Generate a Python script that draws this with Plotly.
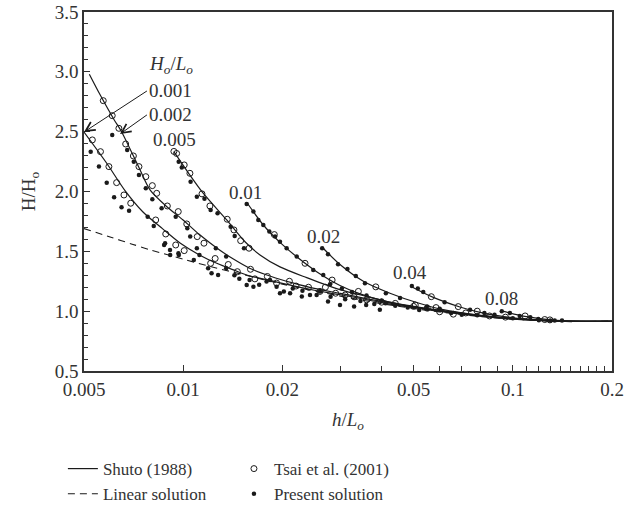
import numpy as np
import plotly.graph_objects as go

# ---------------- data ----------------
# Shuto (1988) curves, one per deep-water steepness Ho/Lo
shuto_0001_x = [0.005, 0.00586, 0.00665, 0.00755, 0.00865, 0.00978, 0.0112, 0.01264, 0.0142, 0.0159,
                0.018, 0.02, 0.025, 0.03, 0.04, 0.05, 0.06, 0.08, 0.1, 0.12, 0.15, 0.2]
shuto_0001_y = [2.497, 2.236, 2.01, 1.829, 1.69, 1.57, 1.47, 1.40, 1.345, 1.295,
                1.262, 1.232, 1.175, 1.137, 1.072, 1.029, 0.998, 0.958, 0.935, 0.923, 0.914, 0.915]

shuto_0002_x = [0.00519, 0.00559, 0.00617, 0.0065, 0.00734, 0.00793, 0.0089, 0.00999, 0.0112, 0.01264,
                0.0142, 0.0159, 0.0185, 0.0215, 0.025, 0.03, 0.04, 0.05, 0.06, 0.08, 0.1, 0.12, 0.15, 0.2]
shuto_0002_y = [2.98, 2.81, 2.60, 2.50, 2.20, 2.013, 1.875, 1.762, 1.64, 1.528,
                1.435, 1.359, 1.29, 1.236, 1.19, 1.148, 1.08, 1.035, 1.002, 0.96, 0.936, 0.924, 0.915, 0.915]

shuto_0005_x = [0.00937, 0.0104, 0.01148, 0.01355, 0.0154, 0.0171, 0.01966, 0.0237, 0.0299, 0.0367,
                0.045, 0.055, 0.065, 0.08, 0.1, 0.12, 0.15, 0.2]
shuto_0005_y = [2.333, 2.15, 1.988, 1.762, 1.58, 1.47, 1.37, 1.28, 1.18, 1.118,
                1.06, 1.02, 0.99, 0.962, 0.937, 0.924, 0.915, 0.915]

shuto_001_x = [0.01558, 0.0175, 0.01966, 0.0222, 0.0254, 0.0299, 0.0344, 0.0415, 0.05, 0.06,
               0.08, 0.1, 0.12, 0.15, 0.2]
shuto_001_y = [1.91, 1.72, 1.575, 1.45, 1.33, 1.215, 1.145, 1.08, 1.04, 1.008,
               0.963, 0.938, 0.924, 0.915, 0.915]

shuto_002_x = [0.0265, 0.0299, 0.0352, 0.0424, 0.0514, 0.061, 0.08, 0.1, 0.12, 0.15, 0.2]
shuto_002_y = [1.53, 1.39, 1.25, 1.15, 1.07, 1.015, 0.965, 0.94, 0.925, 0.915, 0.915]

shuto_004_x = [0.0488, 0.0574, 0.0691, 0.0795, 0.09, 0.1, 0.12, 0.15, 0.2]
shuto_004_y = [1.211, 1.115, 1.035, 0.99, 0.962, 0.945, 0.927, 0.916, 0.915]

shuto_008_x = [0.0923, 0.11, 0.13, 0.16, 0.2]
shuto_008_y = [1.002, 0.954, 0.927, 0.915, 0.915]

# Linear solution
linear_x = [0.005, 0.006, 0.007, 0.008, 0.01, 0.012, 0.015, 0.02, 0.03, 0.04, 0.05, 0.06,
            0.08, 0.1, 0.12, 0.15, 0.2]
linear_y = [1.69, 1.62, 1.56, 1.51, 1.435, 1.375, 1.31, 1.226, 1.126, 1.063, 1.022, 0.993,
            0.955, 0.933, 0.921, 0.913, 0.918]

# Tsai et al. (2001) – open circles
tsai_x = [0.0053, 0.00561, 0.00595, 0.00628, 0.00661, 0.00693, 0.00825, 0.00885, 0.00949, 0.01007, 0.01211,
          0.00572, 0.00609, 0.00638, 0.00669, 0.00706, 0.00734, 0.0077, 0.00806, 0.00831, 0.00895, 0.00966,
          0.01025, 0.01103, 0.01156,
          0.00937, 0.00955, 0.01007, 0.01048, 0.0114, 0.01205, 0.0136, 0.01425, 0.01494, 0.01584,
          0.0189, 0.02342, 0.0283, 0.034,
          0.0384, 0.0506, 0.0585,
          0.0566, 0.0683, 0.078,
          0.109, 0.1296, 0.125,
          0.0125, 0.0137, 0.0146, 0.016, 0.0165, 0.018, 0.0192, 0.021, 0.022, 0.024, 0.026, 0.027,
          0.029, 0.031, 0.033, 0.036, 0.04, 0.044, 0.05, 0.055, 0.066, 0.072, 0.085, 0.095, 0.06]
tsai_y = [2.431, 2.333, 2.208, 2.074, 1.971, 1.902, 1.762, 1.645, 1.553, 1.506, 1.40,
          2.759, 2.634, 2.528, 2.397, 2.297, 2.208, 2.124, 2.049, 1.985, 1.879, 1.832,
          1.729, 1.623, 1.568,
          2.335, 2.318, 2.222, 2.152, 1.98, 1.879, 1.768, 1.679, 1.589, 1.526,
          1.64, 1.40, 1.26, 1.165,
          1.203, 1.052, 1.03,
          1.121, 1.038, 1.0,
          0.96, 0.927, 0.93,
          1.44, 1.39, 1.33, 1.35, 1.27, 1.29, 1.235, 1.25, 1.21, 1.2, 1.165, 1.2,
          1.15, 1.135, 1.12, 1.095, 1.075, 1.065, 1.04, 1.025, 0.975, 0.985, 0.96, 0.95, 0.995]

# Present solution – filled dots
present_x = [0.00524, 0.00555, 0.00586, 0.00617, 0.0065, 0.00685, 0.0078, 0.00814, 0.00875, 0.00913, 0.0097, 0.01077,
             0.00609, 0.00676, 0.00708, 0.00734, 0.0077, 0.00806, 0.0086, 0.00949, 0.01029, 0.0105, 0.011, 0.0112,
             0.01256, 0.0135,
             0.00969, 0.01053, 0.011, 0.01211, 0.01271, 0.01393, 0.01433, 0.01529, 0.0099, 0.0116,
             0.01558, 0.01633, 0.0169, 0.0175, 0.01825, 0.019, 0.01966, 0.0206, 0.0221, 0.02481, 0.0266, 0.0279,
             0.0303, 0.0325, 0.036, 0.04,
             0.0264, 0.0275, 0.0295, 0.0315, 0.0334, 0.0356, 0.0412, 0.0455, 0.0549, 0.06,
             0.0494, 0.0515, 0.0535, 0.0621, 0.0742, 0.082, 0.088,
             0.0926, 0.098, 0.113, 0.1195, 0.134, 0.141, 0.105,
             0.00881, 0.00912, 0.00967, 0.0119, 0.01219, 0.01276, 0.0135, 0.0159, 0.01633, 0.01834, 0.0192,
             0.0202, 0.0211, 0.0229, 0.02425, 0.026, 0.01558, 0.0179, 0.01966, 0.0254, 0.0275, 0.0299, 0.033,
             0.0359, 0.0395, 0.0411, 0.0143, 0.0148, 0.017, 0.0215, 0.023, 0.028, 0.031, 0.0345, 0.038, 0.044,
             0.048, 0.052, 0.065, 0.07, 0.078, 0.1, 0.12, 0.13]
present_y = [2.333, 2.208, 2.074, 1.952, 1.868, 1.84, 1.79, 1.712, 1.553, 1.47, 1.47, 1.428,
             2.472, 2.347, 2.249, 2.138, 2.027, 1.935, 1.86, 1.79, 1.693, 1.623, 1.526, 1.47,
             1.526, 1.456,
             2.249, 2.082, 1.957, 1.846, 1.818, 1.706, 1.629, 1.526, 2.2, 1.94,
             1.896, 1.832, 1.762, 1.72, 1.665, 1.623, 1.581, 1.526, 1.456, 1.345, 1.303, 1.225,
             1.19, 1.16, 1.13, 1.09,
             1.526, 1.476, 1.392, 1.353, 1.294, 1.233, 1.15, 1.11, 1.04, 1.02,
             1.211, 1.19, 1.16, 1.075, 1.011, 0.985, 0.97,
             1.0, 0.985, 0.95, 0.935, 0.923, 0.921, 0.96,
             1.568, 1.512, 1.484, 1.359, 1.317, 1.303, 1.359, 1.261, 1.205, 1.261, 1.205,
             1.164, 1.15, 1.122, 1.136, 1.164, 1.219, 1.247, 1.15, 1.136, 1.08, 1.052, 1.038,
             1.052, 1.011, 1.066, 1.30, 1.27, 1.22, 1.19, 1.17, 1.12, 1.1, 1.085, 1.06, 1.045,
             1.03, 1.01, 0.985, 0.97, 0.965, 0.94, 0.925, 0.922]

# curve labels (0.001 and 0.002 carry arrows)
label_texts = ["0.005", "0.01", "0.02", "0.04", "0.08"]
label_x = [0.00944, 0.0155, 0.0267, 0.0488, 0.0927]
label_y = [2.431, 1.988, 1.62, 1.32, 1.102]

arrow_texts = ["0.001", "0.002"]
arrow_tail_x = [0.00776, 0.00776]
arrow_tail_y = [2.84, 2.64]
arrow_head_x = [0.005, 0.00643]
arrow_head_y = [2.497, 2.48]

x_tickvals = [0.005, 0.01, 0.02, 0.05, 0.1, 0.2]
x_ticktext = ["0.005", "0.01", "0.02", "0.05", "0.1", "0.2"]
x_minor = [0.03, 0.04, 0.06, 0.07, 0.08, 0.09, 0.11, 0.12, 0.13, 0.14, 0.15, 0.16, 0.17, 0.18, 0.19]

# ---------------- figure ----------------
FONT = "Liberation Serif"
TXT = "#333333"
LINE = "#1a1a1a"

fig = go.Figure()

curves = [(shuto_0001_x, shuto_0001_y), (shuto_0002_x, shuto_0002_y), (shuto_0005_x, shuto_0005_y),
          (shuto_001_x, shuto_001_y), (shuto_002_x, shuto_002_y), (shuto_004_x, shuto_004_y),
          (shuto_008_x, shuto_008_y)]
for i, (cx, cy) in enumerate(curves):
    fig.add_trace(go.Scatter(x=cx, y=cy, mode="lines", name="Shuto (1988)",
                             line=dict(color=LINE, width=1.2, shape="spline", smoothing=0.8),
                             legendgroup="shuto", showlegend=(i == 0), legend="legend"))

fig.add_trace(go.Scatter(x=linear_x, y=linear_y, mode="lines", name="Linear solution",
                         line=dict(color=LINE, width=1.1, dash="7px,5px", shape="spline", smoothing=0.8),
                         legend="legend"))

fig.add_trace(go.Scatter(x=tsai_x, y=tsai_y, mode="markers", name="Tsai et al. (2001)",
                         marker=dict(symbol="circle-open", size=6, color=LINE, line=dict(width=1, color=LINE)),
                         legend="legend2"))
fig.add_trace(go.Scatter(x=present_x, y=present_y, mode="markers", name="Present solution",
                         marker=dict(symbol="circle", size=4.5, color=LINE, line=dict(width=0)),
                         legend="legend2"))

annotations = []
for t, lx, ly in zip(label_texts, label_x, label_y):
    annotations.append(dict(x=np.log10(lx), y=ly, xref="x", yref="y", text=t, showarrow=False,
                            font=dict(family=FONT, size=19, color=TXT)))
annotations.append(dict(x=np.log10(0.00918), y=3.06, xref="x", yref="y",
                        text="<i>H<sub>o</sub></i>/<i>L<sub>o</sub></i>", showarrow=False,
                        font=dict(family=FONT, size=19, color=TXT)))
for t, tx, ty, hx, hy in zip(arrow_texts, arrow_tail_x, arrow_tail_y, arrow_head_x, arrow_head_y):
    annotations.append(dict(x=np.log10(hx), y=hy, xref="x", yref="y",
                            ax=np.log10(tx), ay=ty, axref="x", ayref="y", text=t,
                            xanchor="left", yanchor="middle",
                            font=dict(family=FONT, size=19, color=TXT),
                            showarrow=True, arrowhead=5, arrowsize=1.8, arrowwidth=1, arrowcolor=LINE))

fig.update_layout(
    width=643, height=511,
    margin=dict(l=84, r=31, t=12, b=140, autoexpand=False),
    paper_bgcolor="white", plot_bgcolor="white",
    font=dict(family=FONT, size=19, color=TXT),
    annotations=annotations,
    legend=dict(x=-0.04, y=-0.223, xanchor="left", yanchor="top", bgcolor="rgba(0,0,0,0)",
                font=dict(family=FONT, size=17, color=TXT), tracegroupgap=0, itemwidth=30),
    legend2=dict(x=0.284, y=-0.223, xanchor="left", yanchor="top", bgcolor="rgba(0,0,0,0)",
                 font=dict(family=FONT, size=17, color=TXT), tracegroupgap=0, itemwidth=30),
)

fig.update_xaxes(type="log", range=[np.log10(0.005), np.log10(0.2)],
                 tickvals=x_tickvals, ticktext=x_ticktext,
                 ticks="inside", ticklen=6, tickwidth=1, tickcolor=TXT,
                 showline=True, linecolor=TXT, linewidth=1.5, mirror=True,
                 showgrid=False, zeroline=False, automargin=False,
                 minor=dict(tickvals=x_minor, ticks="inside", ticklen=5, tickwidth=1, tickcolor=TXT, showgrid=False),
                 title=dict(text="<i>h</i>/<i>L<sub>o</sub></i>", font=dict(family=FONT, size=19, color=TXT),
                            standoff=14),
                 tickfont=dict(family=FONT, size=19, color=TXT))

fig.update_yaxes(range=[0.5, 3.5], dtick=0.5, tick0=0.5, tickformat=".1f",
                 ticks="inside", ticklen=6, tickwidth=1, tickcolor=TXT,
                 showline=True, linecolor=TXT, linewidth=1.5, mirror=True,
                 showgrid=False, zeroline=False, automargin=False,
                 minor=dict(dtick=0.1, ticks="inside", ticklen=4, tickwidth=1, tickcolor=TXT, showgrid=False),
                 title=dict(text="H/H<sub>o</sub>", font=dict(family=FONT, size=19, color=TXT), standoff=14),
                 tickfont=dict(family=FONT, size=19, color=TXT))

fig.write_html("out.html")
